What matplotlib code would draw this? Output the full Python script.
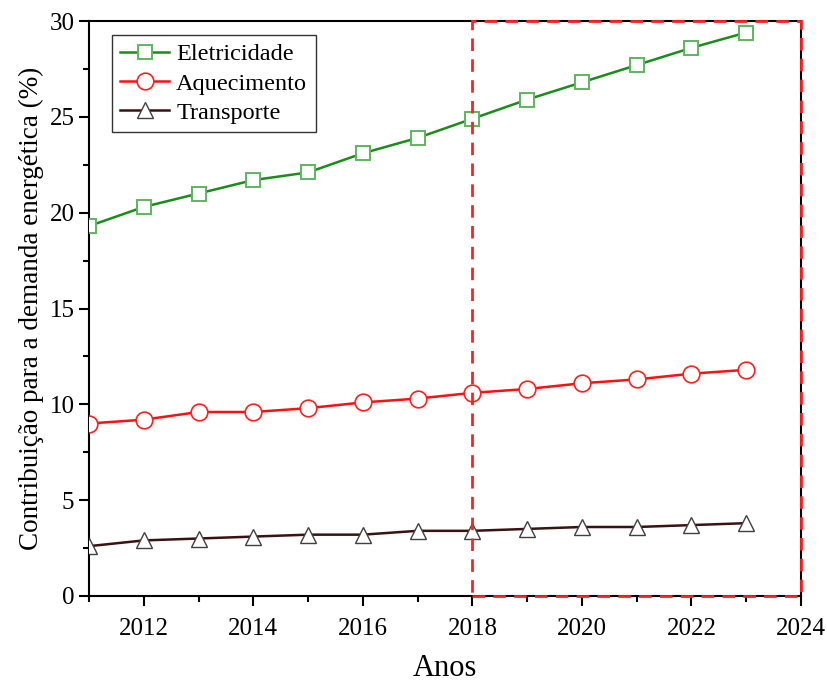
import matplotlib
matplotlib.use("Agg")
import matplotlib.pyplot as plt
from matplotlib.patches import Rectangle
from matplotlib.ticker import MultipleLocator

plt.rcParams["font.family"] = ["Liberation Serif", "DejaVu Serif"]

years = [2011, 2012, 2013, 2014, 2015, 2016, 2017, 2018, 2019, 2020, 2021, 2022, 2023]
eletricidade = [19.3, 20.3, 21.0, 21.7, 22.1, 23.1, 23.9, 24.9, 25.9, 26.8, 27.7, 28.6, 29.4]
aquecimento = [9.0, 9.2, 9.6, 9.6, 9.8, 10.1, 10.3, 10.6, 10.8, 11.1, 11.3, 11.6, 11.8]
transporte = [2.6, 2.9, 3.0, 3.1, 3.2, 3.2, 3.4, 3.4, 3.5, 3.6, 3.6, 3.7, 3.8]

fig = plt.figure(figsize=(8.28, 6.83), dpi=100)
ax = fig.add_axes([89 / 828, 1 - 596 / 683, (801 - 89) / 828, (596 - 21) / 683])

ax.plot(years, eletricidade, color="#1a8c1a", lw=1.8, marker="s", ms=10,
        mfc="white", mec="#5cb85c", mew=1.4, label="Eletricidade", zorder=3)
ax.plot(years, aquecimento, color="#ff1010", lw=1.8, marker="o", ms=12,
        mfc="white", mec="#ff2020", mew=1.2, label="Aquecimento", zorder=3)
ax.plot(years, transporte, color="#3a1212", lw=1.8, marker="^", ms=12,
        mfc="white", mec="#404040", mew=1.0, label="Transporte", zorder=3)

# highlighted window 2018-2024
ax.add_patch(Rectangle((2018, 0), 6, 30, fill=False, ec="#ff2020", lw=2,
                       ls=(0, (4.5, 3)), clip_on=False, zorder=5))

ax.set_xlim(2011, 2024)
ax.set_ylim(0, 30)
ax.xaxis.set_major_locator(MultipleLocator(2))
ax.xaxis.set_minor_locator(MultipleLocator(1))
ax.yaxis.set_major_locator(MultipleLocator(5))
ax.yaxis.set_minor_locator(MultipleLocator(2.5))
ax.tick_params(which="major", direction="out", length=7, width=1.5, labelsize=18)
ax.tick_params(which="minor", direction="out", length=4, width=1.5)
ax.tick_params(axis="x", which="major", pad=9)
for s in ax.spines.values():
    s.set_linewidth(1.5)

ax.set_xlabel("Anos", fontsize=22, labelpad=10)
ax.set_ylabel("Contribuição para a demanda energética (%)", fontsize=19.5, labelpad=4)

leg = ax.legend(loc="upper left", bbox_to_anchor=(0.032, 0.976), borderaxespad=0,
                fontsize=17.5, frameon=True, fancybox=False, edgecolor="black",
                handlelength=2.0, borderpad=0.35, labelspacing=0.3, handletextpad=0.3)
leg.get_frame().set_linewidth(1.0)

fig.savefig("out.png", dpi=100)
